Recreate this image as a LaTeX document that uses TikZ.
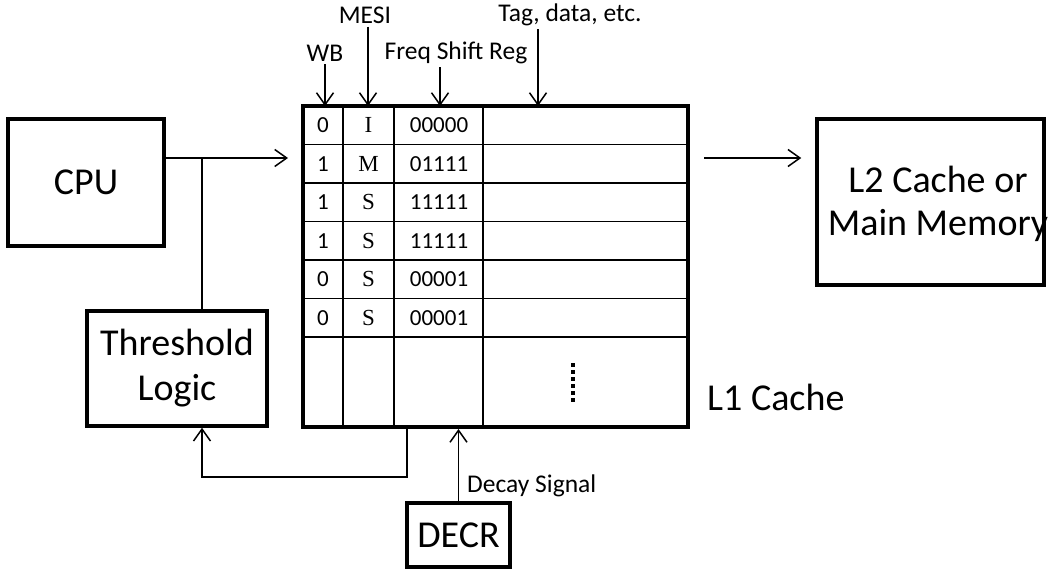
\documentclass[tikz,border=0pt]{standalone}
\usepackage{fontspec}
\newfontfamily\cf{Carlito}
\newfontfamily\serifcell{Liberation Serif}
\usetikzlibrary{arrows.meta}
\tikzset{
  box/.style={draw, line width=3.5pt, align=center, inner sep=0pt, font=\cf\fontsize{38}{45}\selectfont},
  big/.style={align=center, inner sep=0pt, font=\cf\fontsize{38}{43}\selectfont},
  lab/.style={inner sep=3pt, font=\cf\fontsize{25.5}{29}\selectfont},
  cell/.style={inner sep=0pt, font=\cf\fontsize{23}{27}\selectfont},
  scell/.style={inner sep=0pt, font=\serifcell\fontsize{23}{27}\selectfont},
  conn/.style={line width=1.5pt},
  arr/.style={line width=1.5pt, -{Straight Barb[length=12pt,width=17pt,line width=1.5pt]}},
  grid/.style={line width=1.8pt},
}
\begin{document}
\begin{tikzpicture}[x=1pt,y=-1pt]
\useasboundingbox (0,0) rectangle (1050,570);
% boxes
\node[box, minimum width=156pt, minimum height=127pt] (cpu) at (86,182.5) {CPU};
\node[box, minimum width=180pt, minimum height=115pt] (thr) at (177,368.5) {Threshold\\Logic};
\node[box, minimum width=103pt, minimum height=64pt] (decr) at (458.5,535) {DECR};
\node[draw, line width=3.5pt, inner sep=0pt, minimum width=227pt, minimum height=166pt] (l2) at (930.5,202) {};
\node[big] (l2t) at (938,204) {L2 Cache or\\Main Memory};
% L1 table
\node[draw, line width=4pt, inner sep=0pt, minimum width=385pt, minimum height=321pt] (l1) at (495.5,266.5) {};
\foreach \y in {144.5,183,221.5,260,298.5,337} \draw[grid] (303,\y) -- (688,\y);
\foreach \x in {343,394,483} \draw[grid] (\x,106) -- (\x,427);
\node[big, anchor=west] (l1t) at (707,397) {L1 Cache};
% cells
\foreach \r/\w/\f [count=\i] in {0/I/00000,1/M/01111,1/S/11111,1/S/11111,0/S/00001,0/S/00001}{
  \pgfmathsetmacro\yy{106+38.5*(\i-0.5)}
  \node[cell] (wb\i) at (323,\yy) {\r};
  \node[scell] (me\i) at (368.5,\yy) {\w};
  \node[cell] (fr\i) at (439,\yy) {\f};
}
\draw[line width=4pt, dash pattern=on 4pt off 3pt] (573,363) -- (573,402);
% top labels
\node[lab] (mesi) at (365,15) {MESI};
\node[lab] (tag) at (570,15) {Tag, data, etc.};
\node[lab] (wb) at (325,53) {WB};
\node[lab] (freq) at (456,53) {Freq Shift Reg};
\coordinate (tx) at (538,106);
\coordinate (fx) at (440,106);
\coordinate (mx) at (368,106);
\coordinate (wx) at (325,106);
\draw[arr] (wb.south -| wx) -- (wx);
\draw[arr] (mesi.south -| mx) -- (mx);
\draw[arr] (freq.south -| fx) -- (fx);
\draw[arr] (tag.south -| tx) -- (tx);
% connectors
\coordinate (b) at (202,158);
\draw[arr, shorten >=13pt] (cpu.east |- b) -- (l1.west |- b);
\draw[conn] (b) -- (b |- thr.north);
\coordinate (fb) at (407,477);
\draw[arr] (l1.south -| fb) -- (fb) -- (fb -| b) -- (b |- thr.south);
\draw[arr] (decr.north) -- (decr.north |- l1.south);
\node[lab, anchor=west, inner sep=0pt] (ds) at (467,486) {Decay Signal};
\draw[arr, shorten <=14pt, shorten >=14pt] (l1.east |- b) -- (l2.west |- b);
\end{tikzpicture}
\end{document}
